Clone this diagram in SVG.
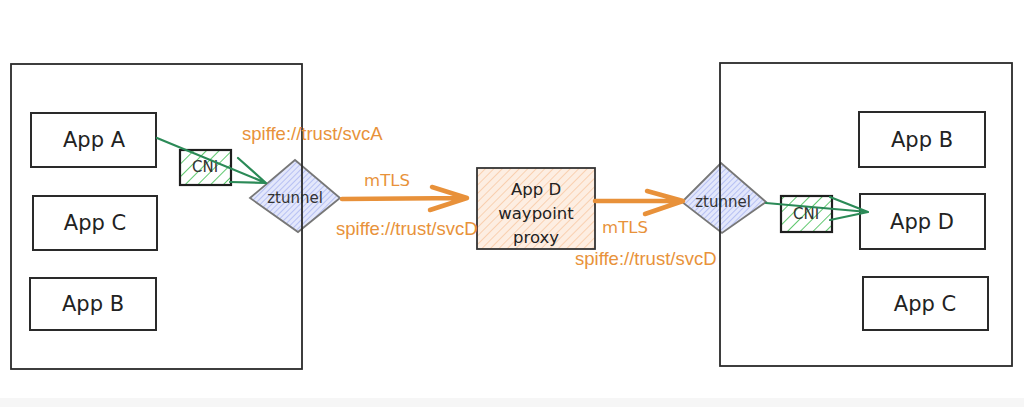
<svg xmlns="http://www.w3.org/2000/svg" width="1024" height="407" viewBox="0 0 1024 407">
<style>
.box{fill:none;stroke:#2a2a2a;stroke-width:1.8}
.app{fill:#fff;stroke:#2a2a2a;stroke-width:2}
.lbl{font-family:"DejaVu Sans","Liberation Sans",sans-serif;font-size:21px;fill:#222;text-anchor:middle;dominant-baseline:central}
.wp{font-family:"DejaVu Sans","Liberation Sans",sans-serif;font-size:16.5px;fill:#222;text-anchor:middle;dominant-baseline:central}
.sm{font-family:"DejaVu Sans","Liberation Sans",sans-serif;font-size:15px;fill:#333;text-anchor:middle;dominant-baseline:central}
.or{font-family:"Liberation Sans",Arial,sans-serif;font-size:18.5px;fill:#e8923a;dominant-baseline:central}
.orh{font-family:"DejaVu Sans","Liberation Sans",sans-serif;font-size:16.5px;fill:#e8923a;dominant-baseline:central;text-anchor:middle}
.g{fill:none;stroke:#2b8a57;stroke-width:2.2;stroke-linecap:round;stroke-linejoin:round}
.o{fill:none;stroke:#e8913a;stroke-width:4.5;stroke-linecap:round;stroke-linejoin:round}
</style>
<defs>
<pattern id="hg" patternUnits="userSpaceOnUse" width="9" height="9" patternTransform="rotate(45)">
<rect width="9" height="9" fill="#fff"/><line x1="0" y1="0" x2="0" y2="9" stroke="#5fc86e" stroke-width="2"/>
</pattern>
<pattern id="hb" patternUnits="userSpaceOnUse" width="4" height="4" patternTransform="rotate(45)">
<rect width="4" height="4" fill="#e3e7fb"/><line x1="0" y1="0" x2="0" y2="4" stroke="#98a6ee" stroke-width="1.2"/>
</pattern>
<pattern id="ho" patternUnits="userSpaceOnUse" width="6" height="6" patternTransform="rotate(45)">
<rect width="6" height="6" fill="#fdeee2"/><line x1="0" y1="0" x2="0" y2="6" stroke="#f8c7a0" stroke-width="1.5"/>
</pattern>
</defs>
<rect width="1024" height="407" fill="#fff"/>
<rect x="0" y="398" width="1024" height="9" fill="#f6f6f6"/>

<g id="node-left-ztunnel"><polygon points="250,198 295,160 340,198 298,232" fill="url(#hb)" stroke="#777" stroke-width="1.8"/><text class="sm" x="295" y="198">ztunnel</text></g>
<g id="node-right-ztunnel"><polygon points="682,202 721,163 766,202 722,233" fill="url(#hb)" stroke="#777" stroke-width="1.8"/><text class="sm" x="723" y="202">ztunnel</text></g>

<g id="node-left-host"><rect class="box" x="11" y="64" width="291" height="305"/></g>
<g id="node-right-host"><rect class="box" x="720" y="63" width="292" height="303"/></g>

<g id="node-left-appA"><rect class="app" x="31" y="113" width="125" height="54"/><text class="lbl" x="94" y="140">App A</text></g>
<g id="node-left-appC"><rect class="app" x="33" y="196" width="124" height="54"/><text class="lbl" x="95" y="223">App C</text></g>
<g id="node-left-appB"><rect class="app" x="30" y="278" width="126" height="52"/><text class="lbl" x="93" y="304">App B</text></g>

<g id="node-right-appB"><rect class="app" x="859" y="112" width="126" height="55"/><text class="lbl" x="922" y="140">App B</text></g>
<g id="node-right-appD"><rect class="app" x="860" y="194" width="125" height="55"/><text class="lbl" x="922" y="222">App D</text></g>
<g id="node-right-appC"><rect class="app" x="863" y="277" width="125" height="53"/><text class="lbl" x="925" y="304">App C</text></g>

<g id="node-left-cni"><rect x="180" y="150" width="51" height="35" fill="url(#hg)" stroke="#1e1e1e" stroke-width="2.2"/><text class="sm" x="205" y="167">CNI</text></g>
<g id="node-right-cni"><rect x="781" y="196" width="51" height="36" fill="url(#hg)" stroke="#1e1e1e" stroke-width="2.2"/><text class="sm" x="806" y="214">CNI</text></g>

<g id="node-waypoint"><rect x="477" y="168" width="118" height="81" fill="url(#ho)" stroke="#333" stroke-width="1.8"/>
<text class="wp" x="536" y="189">App D</text>
<text class="wp" x="536" y="213">waypoint</text>
<text class="wp" x="536" y="237">proxy</text></g>

<g id="connectors">
<path class="g" d="M157,138 L266,183 M238,158 L266,183 L230,182"/>
<path class="g" d="M766,203 L868,212 M830,197 L868,212 L830,220"/>
<path class="o" d="M342,199 L467,198 M432,187 L467,198 L430,210"/>
<path class="o" d="M595,201 L683,201 M647,191 L683,201 L645,214"/>
</g>

<g id="labels">
<text class="or" x="242" y="133">spiffe://trust/svcA</text>
<text class="orh" x="387" y="180">mTLS</text>
<text class="or" x="336" y="228">spiffe://trust/svcD</text>
<text class="orh" x="625" y="227">mTLS</text>
<text class="or" x="575" y="258">spiffe://trust/svcD</text>
</g>
</svg>
